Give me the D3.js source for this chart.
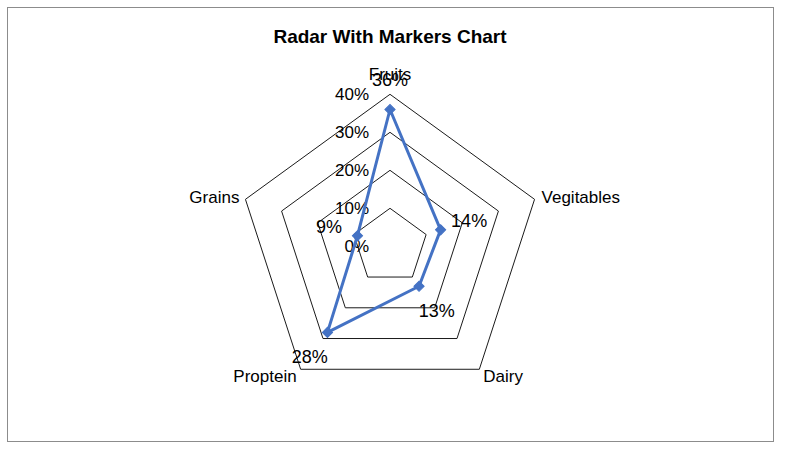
<!DOCTYPE html>
<html>
<head>
<meta charset="utf-8">
<script src="https://cdn.jsdelivr.net/npm/d3@7"></script>
<style>
    body { margin: 0; background: #fff; }
    svg { display: block; }
</style>
</head>
<body>
<svg></svg>
<script>
const WIDTH = 786;
const HEIGHT = 453;

const categories = ["Fruits", "Vegitables", "Dairy", "Proptein", "Grains"];
const values = [0.36, 0.14, 0.13, 0.28, 0.09];
const ticks = [0, 0.1, 0.2, 0.3, 0.4];

const FONT = "'Liberation Sans', Arial, sans-serif";

function drawChart(svg) {
    svg.attr("width", WIDTH).attr("height", HEIGHT);

    // chart border
    svg.append("rect")
        .attr("x", 7.5).attr("y", 7.5)
        .attr("width", 766).attr("height", 434)
        .style("fill", "#fff")
        .style("stroke", "#8c8c8c")
        .style("stroke-width", "1px");

    svg.append("text")
        .attr("x", 390).attr("y", 43)
        .attr("text-anchor", "middle")
        .style("font-family", FONT)
        .style("font-weight", "bold")
        .style("font-size", "19px")
        .text("Radar With Markers Chart");

    const g = svg.append("g")
        .attr("transform", "translate(390, 246.3)");

    const angle = d3.scaleLinear()
        .domain([0, categories.length])
        .range([0, 2 * Math.PI]);

    const r = d3.scaleLinear()
        .domain([0, 0.4])
        .range([0, 152]);

    const point = (i, v) => {
        const a = angle(i);
        return [r(v) * Math.sin(a), -r(v) * Math.cos(a)];
    };

    // grid rings
    const ring = d3.lineRadial()
        .angle((d, i) => angle(i))
        .radius(d => r(d))
        .curve(d3.curveLinearClosed);

    g.selectAll("path.ring")
        .data(ticks.slice(1))
        .enter().append("path")
        .attr("class", "ring")
        .attr("d", t => ring(categories.map(() => t)))
        .style("fill", "none")
        .style("stroke", "#1a1a1a")
        .style("stroke-width", "1px");

    // tick labels up the top axis
    g.selectAll("text.tick")
        .data(ticks)
        .enter().append("text")
        .attr("class", "tick")
        .attr("x", -21)
        .attr("y", t => -r(t))
        .attr("dy", "0.35em")
        .attr("text-anchor", "end")
        .style("font-family", FONT)
        .style("font-size", "17px")
        .text(d3.format(".0%"));

    // category labels
    g.selectAll("text.cat")
        .data(categories)
        .enter().append("text")
        .attr("class", "cat")
        .attr("transform", (d, i) => {
            const [x, y] = point(i, 0.4);
            const s = Math.sin(angle(i)), c = Math.cos(angle(i));
            if (Math.abs(s) < 0.1) return `translate(${x}, ${y - 20})`;
            if (c > 0) return `translate(${x + (s > 0 ? 7 : -6)}, ${y - 2})`;
            return `translate(${x + (s > 0 ? 4 : -4)}, ${y + 7})`;
        })
        .attr("text-anchor", (d, i) => {
            const s = Math.sin(angle(i));
            return Math.abs(s) < 0.1 ? "middle" : (s > 0 ? "start" : "end");
        })
        .attr("dy", "0.35em")
        .style("font-family", FONT)
        .style("font-size", "17px")
        .text(d => d);

    // series line
    const line = d3.lineRadial()
        .angle((d, i) => angle(i))
        .radius(d => r(d))
        .curve(d3.curveLinearClosed);

    g.append("path")
        .attr("d", line(values))
        .style("fill", "none")
        .style("stroke", "#4472C4")
        .style("stroke-width", "3px")
        .style("stroke-linejoin", "round");

    g.selectAll("path.marker")
        .data(values)
        .enter().append("path")
        .attr("class", "marker")
        .attr("d", d3.symbol(d3.symbolSquare, 52))
        .attr("transform", (d, i) => {
            const [x, y] = point(i, d);
            return `translate(${x}, ${y}) rotate(45)`;
        })
        .style("fill", "#4472C4")
        .style("stroke", "#4472C4")
        .style("stroke-width", "1px");

    // data labels, pushed outward along each axis
    g.selectAll("text.value")
        .data(values)
        .enter().append("text")
        .attr("class", "value")
        .attr("x", (d, i) => point(i, d)[0] + 30 * Math.sin(angle(i)))
        .attr("y", (d, i) => point(i, d)[1] - 30 * Math.cos(angle(i)))
        .attr("dy", "0.35em")
        .attr("text-anchor", "middle")
        .style("font-family", FONT)
        .style("font-size", "18px")
        .text(d3.format(".0%"));
}

drawChart(d3.select("svg"));
</script>
</body>
</html>
